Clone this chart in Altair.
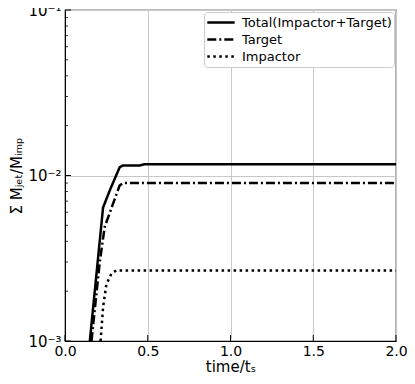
import altair as alt
import pandas as pd

t_total = [0.15, 0.23, 0.27, 0.33, 0.35, 0.45, 0.48, 2.0]
m_total = [1e-3, 6.4e-3, 8.1e-3, 1.12e-2, 1.15e-2, 1.15e-2, 1.17e-2, 1.17e-2]
t_target = [0.16, 0.21, 0.24, 0.33, 0.35, 2.0]
m_target = [1e-3, 3.0e-3, 4.9e-3, 8.7e-3, 9.0e-3, 9.0e-3]
t_imp = [0.215, 0.23, 0.25, 0.28, 0.31, 2.0]
m_imp = [1e-3, 1.6e-3, 2.2e-3, 2.55e-3, 2.67e-3, 2.67e-3]

series = ["Total(Impactor+Target)", "Target", "Impactor"]
x_ticks = [0.0, 0.5, 1.0, 1.5, 2.0]
y_major = [1e-3, 1e-2, 1e-1]
y_minor = [k * 10.0 ** e for e in (-3, -2) for k in range(2, 10)]

rows = []
for name, ts, ms in zip(series, [t_total, t_target, t_imp], [m_total, m_target, m_imp]):
    for t, m in zip(ts, ms):
        rows.append({"t": t, "m": m, "s": name})
df = pd.DataFrame(rows)

W, H = 331, 331
FONT = "DejaVu Sans"

xscale = alt.Scale(domain=[0, 2], nice=False, zero=False)
yscale = alt.Scale(type="log", domain=[1e-3, 1e-1], nice=False)

lines = alt.Chart(df).mark_line(strokeWidth=2.5, color="black", clip=True, strokeCap="butt").encode(
    x=alt.X("t:Q", scale=xscale,
            axis=alt.Axis(title="time/tₛ", values=x_ticks, format=".1f", grid=True,
                          gridColor="#c8c8c8", ticks=False, labelPadding=3, labelFlush=False,
                          labelFontSize=14, titleFontSize=15, labelFont=FONT, titleFont=FONT,
                          titleFontWeight="normal",
                          domainColor="black", labelColor="black", titleColor="black",
                          titlePadding=1)),
    y=alt.Y("m:Q", scale=yscale,
            axis=alt.Axis(title="Σ Mⱼₑₜ/Mᵢₘₚ", values=y_major, grid=True, gridColor="#c8c8c8",
                          ticks=False, labelPadding=4, labelFlush=False,
                          labelExpr="datum.value < 0.005 ? '10⁻³' : (datum.value < 0.05 ? '10⁻²' : '10⁻¹')",
                          labelFontSize=15, titleFontSize=15, labelFont=FONT, titleFont=FONT,
                          titleFontWeight="normal",
                          domainColor="black", labelColor="black", titleColor="black",
                          titlePadding=3)),
    strokeDash=alt.StrokeDash("s:N",
                              scale=alt.Scale(domain=series, range=[[1, 0], [9, 3, 2, 3], [2.5, 3.5]]),
                              sort=series,
                              legend=alt.Legend(title=None, orient="top-right", offset=2,
                                                labelFontSize=13, labelFont=FONT, labelColor="black",
                                                symbolType="stroke", symbolStrokeWidth=2.5,
                                                symbolSize=750, symbolStrokeColor="black",
                                                clipHeight=17, labelOffset=6,
                                                strokeColor="#cccccc", fillColor="white",
                                                padding=2, cornerRadius=3, rowPadding=0)),
    order="t:Q",
)

xt = alt.Chart(pd.DataFrame({"t": x_ticks})).mark_rule(color="black", strokeWidth=1).encode(
    x=alt.X("t:Q", scale=xscale), y=alt.value(H), y2=alt.value(H - 6))
ymaj = alt.Chart(pd.DataFrame({"m": y_major})).mark_rule(color="black", strokeWidth=1).encode(
    y=alt.Y("m:Q", scale=yscale), x=alt.value(0), x2=alt.value(6))
ymin = alt.Chart(pd.DataFrame({"m": y_minor})).mark_rule(color="black", strokeWidth=0.8).encode(
    y=alt.Y("m:Q", scale=yscale), x=alt.value(0), x2=alt.value(3))

chart = alt.layer(lines, xt, ymaj, ymin).properties(
    width=W, height=H,
    autosize=alt.AutoSizeParams(type="none"),
    padding={"left": 57, "top": 2, "right": 11, "bottom": 35},
).configure_view(stroke="black", strokeWidth=1.2)

chart.save("out.html", embed_options={"renderer": "svg", "actions": False})
